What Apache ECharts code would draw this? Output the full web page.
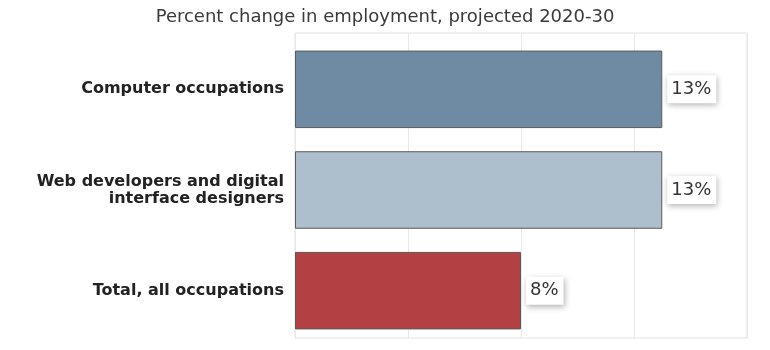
<!DOCTYPE html>
<html><head><meta charset="utf-8">
<script src="https://cdn.jsdelivr.net/npm/echarts@6/dist/echarts.min.js"></script>
<style>html,body{margin:0;padding:0;background:#fff}#c{width:770px;height:350px}</style>
</head><body><div id="c"></div>
<script>
const categories = ['Computer occupations', 'Web developers and digital\ninterface designers', 'Total, all occupations'];
const values = [13, 13, 8];
const colors = ['#6f8aa3', '#adbfcc', '#b34043'];
const chart = echarts.init(document.getElementById('c'));
chart.setOption({
  animation: false,
  title: { text: 'Percent change in employment, projected 2020-30', left: 'center', top: 3,
    textStyle: { fontFamily: 'DejaVu Sans', fontSize: 18, fontWeight: 'normal', color: '#3a3a3a' } },
  grid: [
    { left: 295, right: 23, top: 39, bottom: 9 },
    { left: 295, right: 23, top: 33, bottom: 12, show: true, borderColor: '#e2e2e2', borderWidth: 1 }
  ],
  xAxis: [
    { type: 'value', gridIndex: 0, min: 0, max: 16, interval: 4, axisLabel: { show: false },
      axisLine: { show: false }, axisTick: { show: false }, splitLine: { show: false } },
    { type: 'value', gridIndex: 1, min: 0, max: 16, interval: 4, axisLabel: { show: false },
      axisLine: { show: false }, axisTick: { show: false },
      splitLine: { lineStyle: { color: '#e8e8e8' } } }
  ],
  yAxis: [
    { type: 'category', gridIndex: 0, data: categories, inverse: true,
      axisLine: { show: false }, axisTick: { show: false },
      axisLabel: { fontFamily: 'DejaVu Sans', fontWeight: 'bold', fontSize: 16, color: '#222', margin: 11, lineHeight: 17 } },
    { type: 'category', gridIndex: 1, data: categories, inverse: true, show: false }
  ],
  series: [{
    type: 'bar', xAxisIndex: 0, yAxisIndex: 0, barWidth: '77%',
    data: values.map((v, i) => ({ value: v, itemStyle: { color: colors[i] } })),
    itemStyle: { borderColor: '#5a5a5a', borderWidth: 1 },
    label: { show: true, position: 'right', distance: 5, formatter: '{c}%',
      fontFamily: 'DejaVu Sans', fontSize: 18, color: '#333',
      backgroundColor: '#fff', padding: [6, 5, 4, 4],
      shadowColor: 'rgba(0,0,0,0.3)', shadowBlur: 6, shadowOffsetX: 1, shadowOffsetY: 2 }
  }]
});
</script></body></html>
